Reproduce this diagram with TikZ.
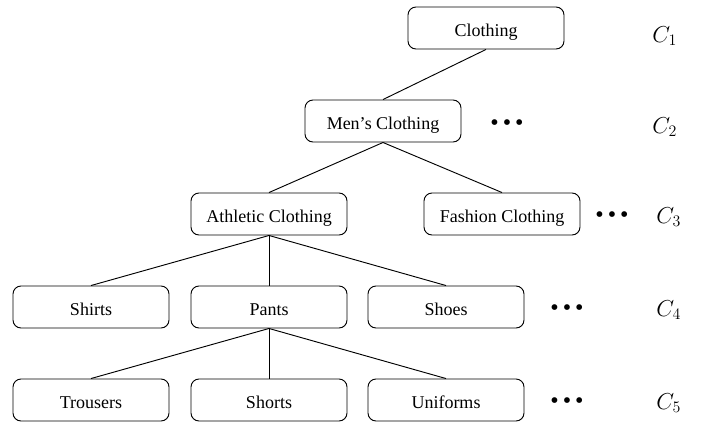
\documentclass[tikz,border=0pt]{standalone}
\usepackage{fontspec}
\setmainfont{Liberation Serif}

\tikzset{
  category/.style={draw, rounded corners=6pt, minimum width=117pt, minimum height=31.5pt,
    inner sep=0pt, text height=12pt, text depth=0pt, font=\fontsize{13.5}{16}\selectfont},
  more/.style={inner sep=0pt, font=\fontsize{18}{18}\selectfont},
  level/.style={inner sep=0pt, anchor=base west, font=\fontsize{17}{19}\selectfont}
}

\begin{document}
\begin{tikzpicture}[x=0.75pt, y=-0.75pt, line width=0.7pt]
  \useasboundingbox (0,0) rectangle (702,426);
  % categories
  \node[category] (clothing) at (486,28) {Clothing};
  \node[category] (mens) at (383,121) {Men's Clothing};
  \node[category] (athletic) at (269,214) {Athletic Clothing};
  \node[category] (fashion) at (502,214) {Fashion Clothing};
  \node[category] (shirts) at (91,307) {Shirts};
  \node[category] (pants) at (269,307) {Pants};
  \node[category] (shoes) at (446,307) {Shoes};
  \node[category] (trousers) at (91,400) {Trousers};
  \node[category] (shorts) at (269,400) {Shorts};
  \node[category] (uniforms) at (446,400) {Uniforms};
  % links
  \draw (clothing.south) -- (mens.north);
  \foreach \c in {athletic,fashion}
    \draw (mens.south) -- (\c.north);
  \foreach \c in {shirts,pants,shoes}
    \draw (athletic.south) -- (\c.north);
  \foreach \c in {trousers,shorts,uniforms}
    \draw (pants.south) -- (\c.north);
  % more siblings
  \node[more] (more2) at (507,125) {•\hspace{3pt}•\hspace{3pt}•};
  \node[more] (more3) at (612,217) {•\hspace{3pt}•\hspace{3pt}•};
  \node[more] (more4) at (567,310) {•\hspace{3pt}•\hspace{3pt}•};
  \node[more] (more5) at (567,403) {•\hspace{3pt}•\hspace{3pt}•};
  % levels
  \node[level] (c1) at (652,42) {$C_1$};
  \node[level] (c2) at (652,133) {$C_2$};
  \node[level] (c3) at (656,223) {$C_3$};
  \node[level] (c4) at (656,316) {$C_4$};
  \node[level] (c5) at (656,409) {$C_5$};
\end{tikzpicture}
\end{document}
